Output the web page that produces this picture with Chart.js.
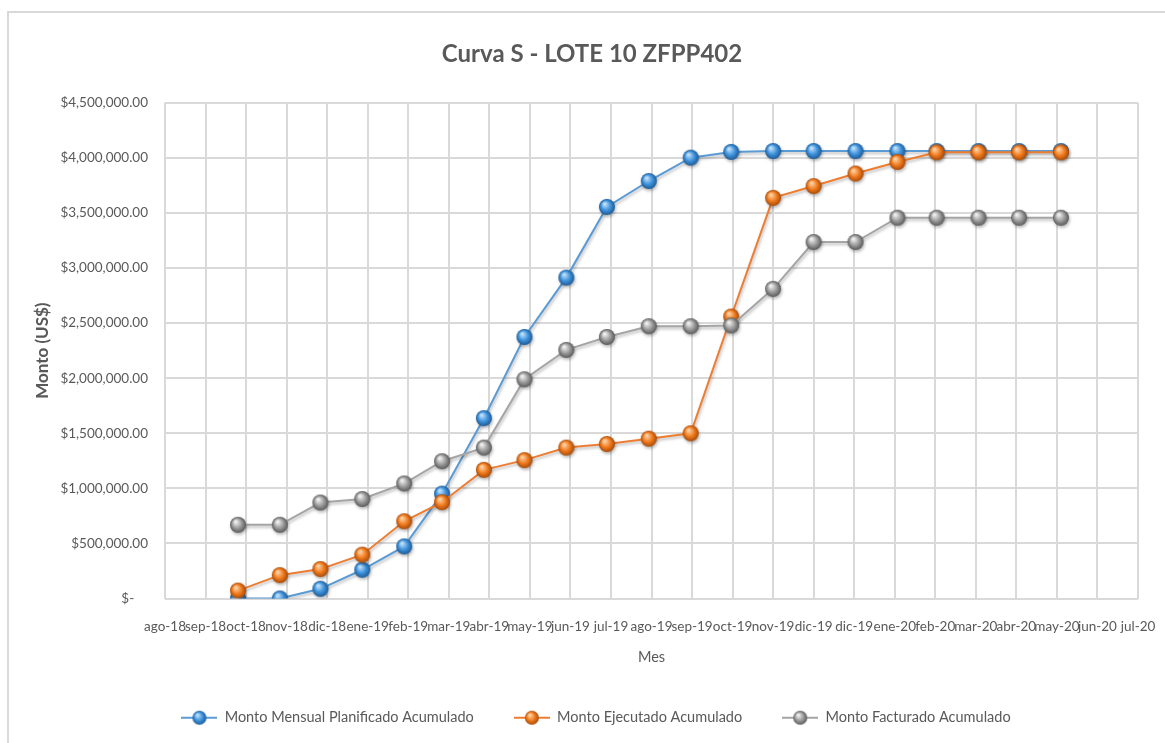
<!DOCTYPE html>
<html>
<head>
<meta charset="utf-8">
<script src="https://cdn.jsdelivr.net/npm/chart.js@4"></script>
<style>
  html, body { margin: 0; padding: 0; background: #fff; }
  #wrap { width: 1165px; height: 743px; position: relative; }
</style>
</head>
<body>
<div id="wrap"><canvas id="curva-s"></canvas></div>
<script>
// fechas de corte (1ro de cada mes)
const meses = ['2018-10-01', '2018-11-01', '2018-12-01', '2019-01-01', '2019-02-01', '2019-03-01',
  '2019-04-01', '2019-05-01', '2019-06-01', '2019-07-01', '2019-08-01', '2019-09-01', '2019-10-01',
  '2019-11-01', '2019-12-01', '2020-01-01', '2020-02-01', '2020-03-01', '2020-04-01', '2020-05-01', '2020-06-01'];

const planificado = [0, 0, 88000, 261000, 473000, 952000, 1637000, 2374000, 2913000, 3555000, 3790000,
  4002000, 4054000, 4062000, 4062000, 4062000, 4062000, 4062000, 4062000, 4062000, 4062000];
const ejecutado = [72000, 212000, 267000, 398000, 701000, 874000, 1168000, 1256000, 1370000, 1402000, 1451000,
  1500000, 2560000, 3637000, 3744000, 3858000, 3963000, 4050000, 4050000, 4050000, 4050000];
const facturado = [669000, 669000, 871000, 903000, 1044000, 1246000, 1370000, 1990000, 2257000, 2374000, 2472000,
  2472000, 2479000, 2811000, 3236000, 3236000, 3457000, 3457000, 3457000, 3457000, 3457000];

const series = ['Monto Mensual Planificado Acumulado', 'Monto Ejecutado Acumulado', 'Monto Facturado Acumulado'];

// eje de fechas al estilo Excel: inicio y paso en dias
const ejeInicio = '2018-08-08';
const ejePaso = 30;
const ejeDivisiones = 24;
const yMax = 4500000;
const yPaso = 500000;

const mesesEs = ['ene', 'feb', 'mar', 'abr', 'may', 'jun', 'jul', 'ago', 'sep', 'oct', 'nov', 'dic'];
const DIA = 86400000;
const aDia = s => Date.parse(s + 'T00:00:00Z') / DIA;
const etiquetaMes = d => {
  const f = new Date(d * DIA);
  return mesesEs[f.getUTCMonth()] + '-' + String(f.getUTCFullYear()).slice(2);
};

const fuente = "Lato, 'Open Sans', sans-serif";
const gris = '#595959';

// bolitas 3D
function bola(c1, c2, c3, r, conLinea, colorLinea) {
  const w = conLinea ? 36 : r * 2 + 4, h = r * 2 + 4;
  const cv = document.createElement('canvas');
  cv.width = w; cv.height = h;
  const g = cv.getContext('2d');
  const cx = w / 2, cy = h / 2;
  if (conLinea) {
    g.strokeStyle = colorLinea; g.lineWidth = 2;
    g.beginPath(); g.moveTo(0, cy); g.lineTo(w, cy); g.stroke();
  }
  const grad = g.createRadialGradient(cx - r * 0.3, cy - r * 0.4, r * 0.1, cx, cy, r);
  grad.addColorStop(0, c1);
  grad.addColorStop(0.55, c2);
  grad.addColorStop(1, c3);
  g.fillStyle = grad;
  g.beginPath(); g.arc(cx, cy, r, 0, Math.PI * 2); g.fill();
  return cv;
}

const estilos = [
  { linea: '#5b9bd5', c: ['#bfe0fa', '#3f93dc', '#1d5a96'] },
  { linea: '#ed7d31', c: ['#ffd2a6', '#f07b1e', '#a84a08'] },
  { linea: '#a5a5a5', c: ['#f0f0f0', '#9c9c9c', '#5a5a5a'] }
];
const valores = [planificado, ejecutado, facturado];

const datasets = series.map((nombre, i) => ({
  label: nombre,
  data: meses.map((m, j) => ({ x: aDia(m), y: valores[i][j] })),
  borderColor: estilos[i].linea,
  borderWidth: 2,
  pointStyle: bola(...estilos[i].c, 8, false),
  pointRadius: 8,
  tension: 0,
  order: 3 - i
}));

const marcoPlugin = {
  id: 'marco',
  beforeDraw(chart) {
    const c = chart.ctx;
    c.save();
    c.fillStyle = '#fff';
    c.fillRect(0, 0, chart.width, chart.height);
    c.strokeStyle = '#d9d9d9';
    c.lineWidth = 2;
    c.strokeRect(8, 12, chart.width + 20, chart.height + 20);
    c.restore();
  },
  afterLayout(chart) {
    // en Excel titulo y leyenda van centrados en todo el ancho
    const lg = chart.legend;
    if (lg) { lg.left += 27; lg.right += 27; }
    const tb = chart.titleBlock;
    if (tb) { tb.left += 23; tb.right += 23; }
  },
  beforeDatasetsDraw(chart) {
    const c = chart.ctx;
    c.save();
    c.shadowColor = 'rgba(0,0,0,0.28)';
    c.shadowBlur = 3;
    c.shadowOffsetX = 1;
    c.shadowOffsetY = 2;
  },
  afterDatasetsDraw(chart) {
    chart.ctx.restore();
  }
};

const x0 = aDia(ejeInicio);

new Chart(document.getElementById('curva-s'), {
  type: 'line',
  data: { datasets },
  plugins: [marcoPlugin],
  options: {
    responsive: true,
    maintainAspectRatio: false,
    animation: false,
    layout: { padding: { left: 0, right: 27, top: 0, bottom: 8 } },
    plugins: {
      title: {
        display: true,
        text: 'Curva S - LOTE 10 ZFPP402',
        color: gris,
        font: { family: fuente, size: 24, weight: 'bold' },
        padding: { top: 40, bottom: 34 }
      },
      legend: {
        position: 'bottom',
        labels: {
          color: gris,
          font: { family: fuente, size: 14.5 },
          usePointStyle: true,
          pointStyleWidth: 36,
          padding: 40,
          generateLabels: chart => chart.data.datasets.map((ds, i) => ({
            text: ds.label,
            pointStyle: bola(...estilos[i].c, 7, true, estilos[i].linea),
            fillStyle: estilos[i].linea,
            strokeStyle: estilos[i].linea,
            lineWidth: 0,
            fontColor: gris,
            datasetIndex: i
          }))
        }
      },
      tooltip: { enabled: false }
    },
    scales: {
      x: {
        type: 'linear',
        min: x0,
        max: x0 + ejePaso * ejeDivisiones,
        afterBuildTicks: s => {
          s.ticks = [];
          for (let k = 0; k <= ejeDivisiones; k++) s.ticks.push({ value: x0 + k * ejePaso });
        },
        afterFit: s => { s.height = 72; s.paddingLeft = 0; s.paddingRight = 0; },
        ticks: {
          color: gris,
          font: { family: fuente, size: 13.5 },
          padding: 20,
          maxRotation: 0,
          autoSkip: false,
          callback: v => etiquetaMes(v)
        },
        grid: { color: '#d9d9d9', lineWidth: 2, drawTicks: false },
        border: { display: false },
        title: {
          display: true,
          text: 'Mes',
          color: gris,
          font: { family: fuente, size: 14.5 },
          padding: { top: 0, bottom: 4 }
        }
      },
      y: {
        min: 0,
        max: yMax,
        afterFit: s => { s.width = 165; },
        ticks: {
          stepSize: yPaso,
          color: gris,
          font: { family: fuente, size: 13.5 },
          padding: 17,
          callback: v => v === 0 ? '$-    ' : '$' + v.toLocaleString('en-US', { minimumFractionDigits: 2 })
        },
        grid: { color: '#d9d9d9', lineWidth: 2, drawTicks: false },
        border: { display: false },
        title: {
          display: true,
          text: 'Monto (US$)',
          color: gris,
          font: { family: fuente, size: 17, weight: 'bold' },
          padding: { top: 32, bottom: 0 }
        }
      }
    }
  }
});
</script>
</body>
</html>
